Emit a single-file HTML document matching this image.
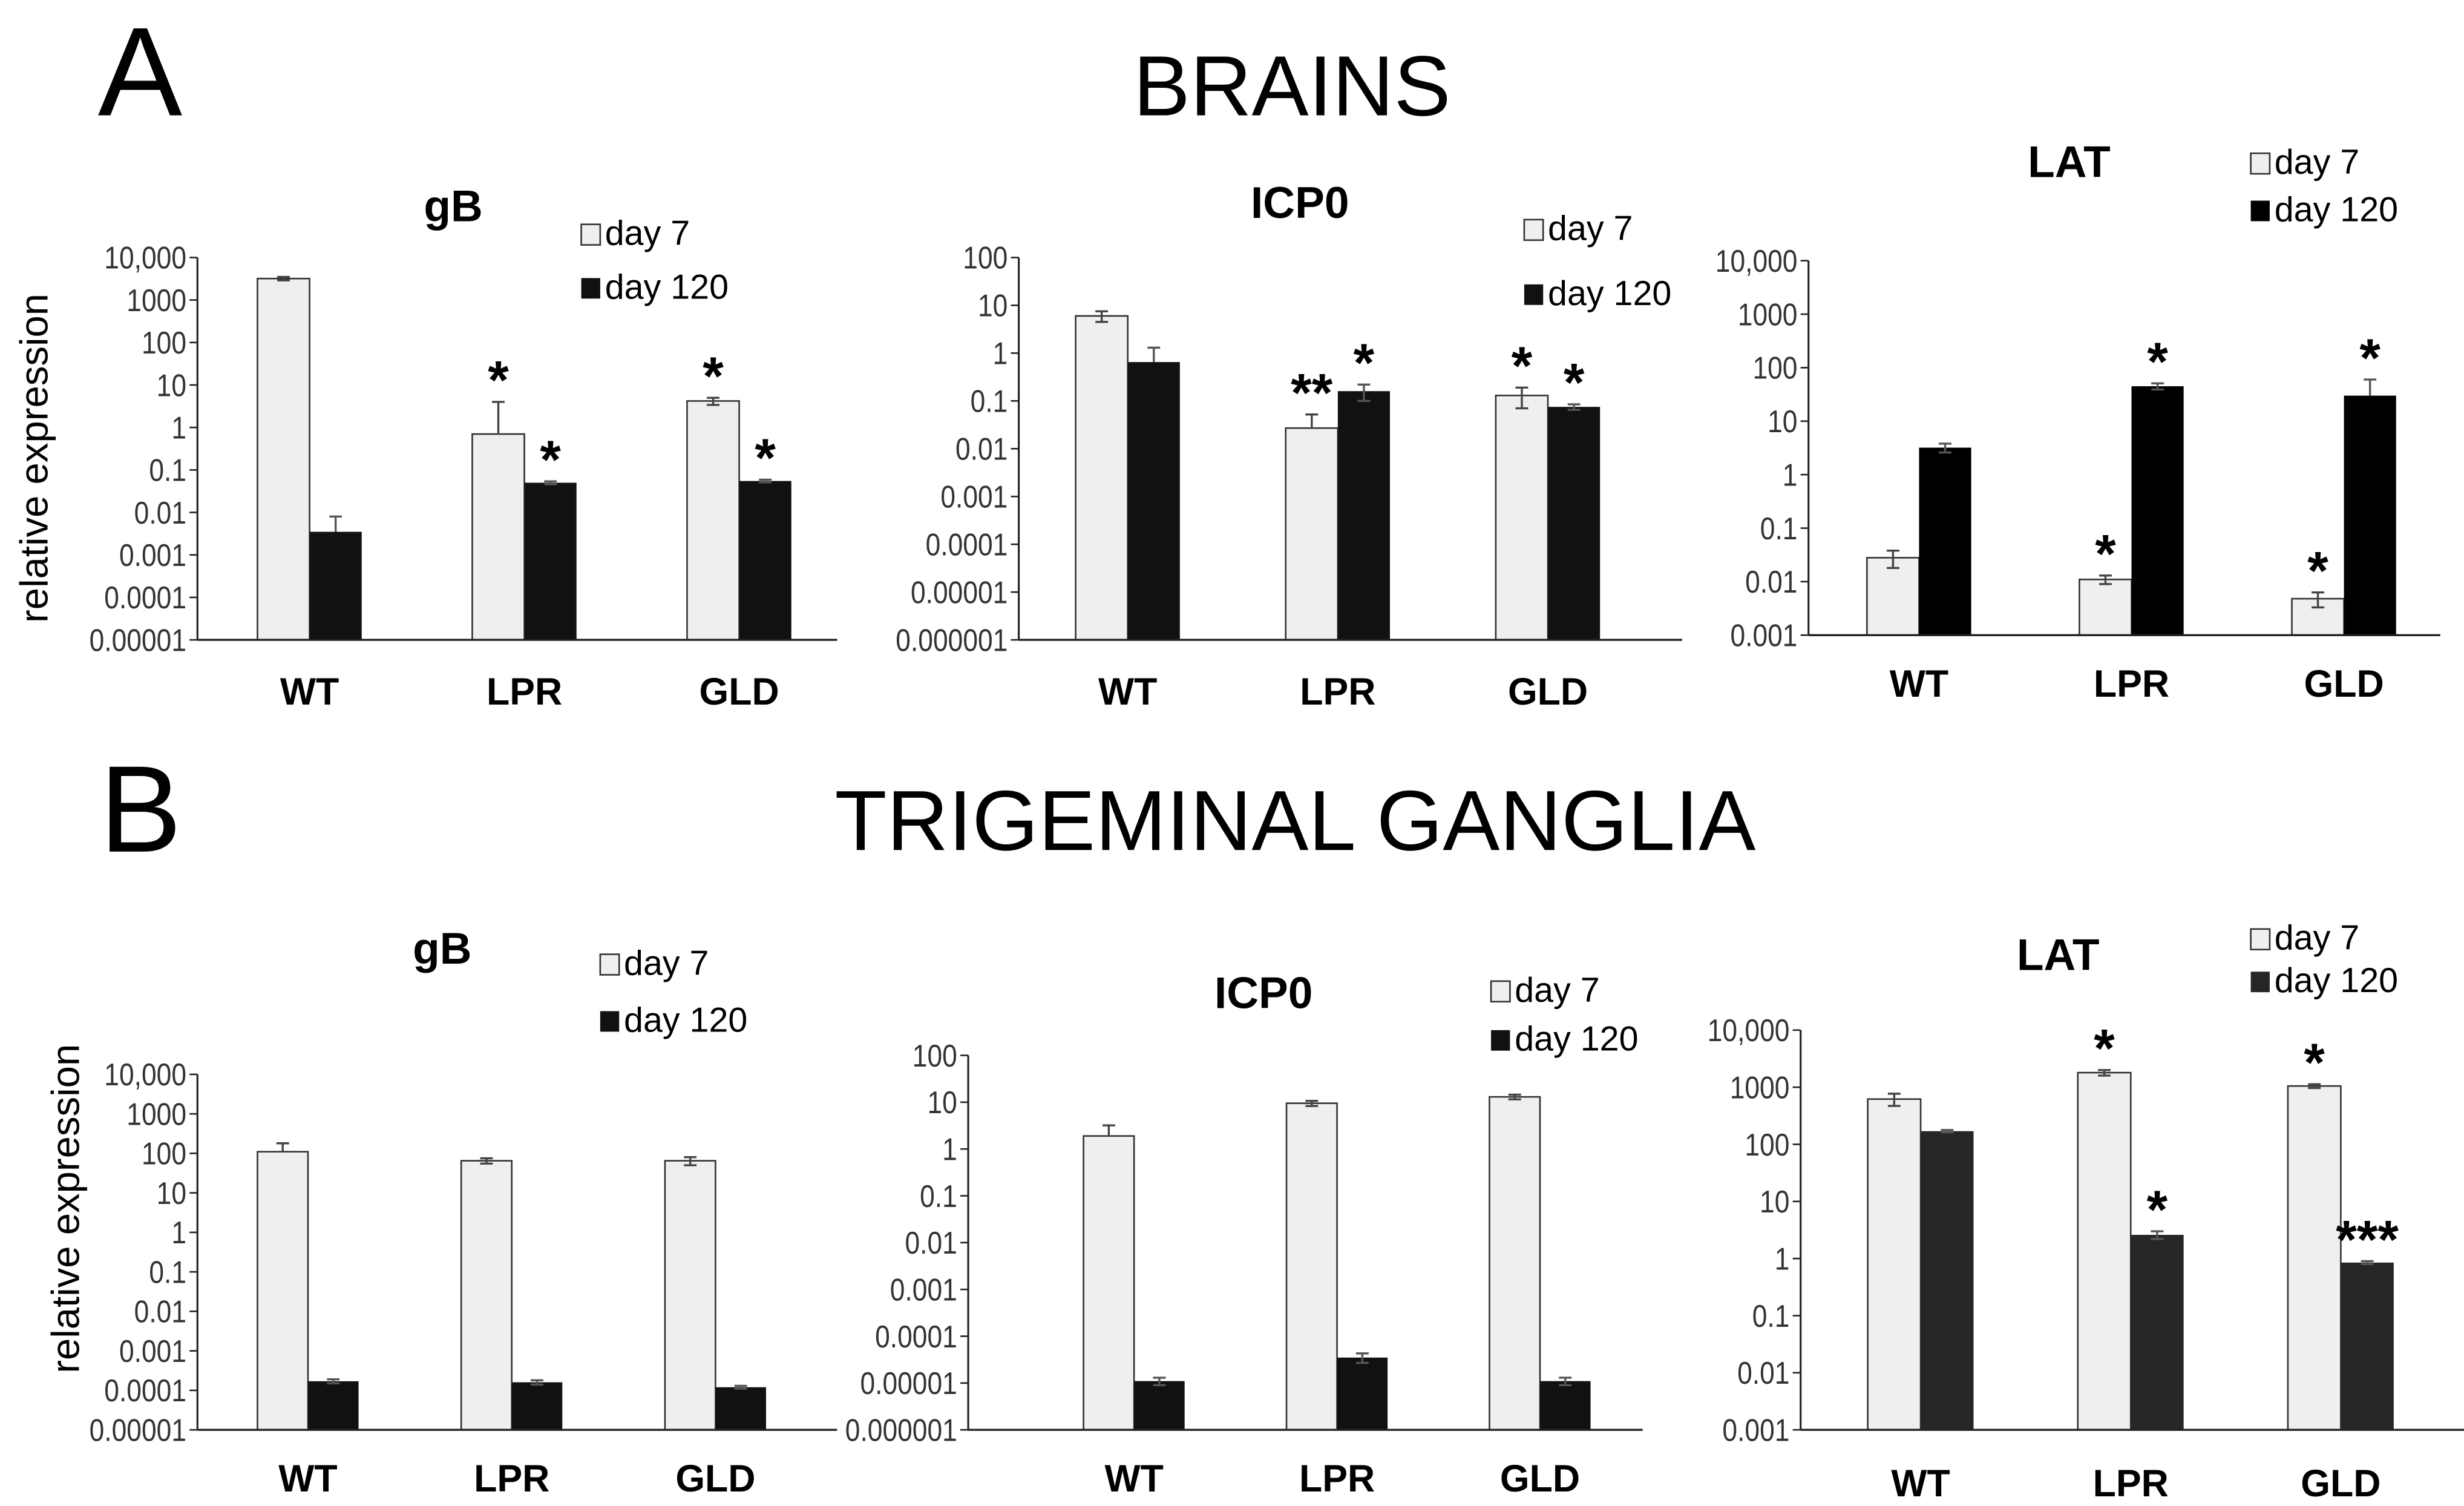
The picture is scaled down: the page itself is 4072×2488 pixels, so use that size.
<!DOCTYPE html>
<html><head><meta charset="utf-8">
<style>
html,body{margin:0;padding:0;background:#fff;width:4072px;height:2488px;overflow:hidden}
svg{display:block}
text{font-family:"Liberation Sans",Arial,sans-serif}
</style></head>
<body>
<svg id="fig" width="4072" height="2488" viewBox="0 0 1560 953.2" preserveAspectRatio="none" xmlns="http://www.w3.org/2000/svg">
<text x="62" y="73" font-size="80">A</text>
<text x="818" y="73" font-size="54" text-anchor="middle">BRAINS</text>
<text x="63" y="539" font-size="78">B</text>
<text x="820" y="538" font-size="54" text-anchor="middle">TRIGEMINAL GANGLIA</text>
</svg>
<script>
const categories = ["WT","LPR","GLD"];
// Brains gB
const a1Day7 = [3200, 0.7, 4.2];
const a1Day7Err = [300, 3.3, 0.8];
const a1Day120 = [0.0035, 0.05, 0.055];
const a1Day120Err = [0.0045, 0.004, 0.004];
const a1Ticks = ["10,000","1000","100","10","1","0.1","0.01","0.001","0.0001","0.00001"];
const a1Stars7 = ["", "*", "*"];
const a1Stars120 = ["", "*", "*"];
// Brains ICP0
const a2Day7 = [6, 0.027, 0.13];
const a2Day7Err = [1.5, 0.025, 0.06];
const a2Day120 = [0.65, 0.16, 0.075];
const a2Day120Err = [0.65, 0.06, 0.01];
const a2Ticks = ["100","10","1","0.1","0.01","0.001","0.0001","0.00001","0.000001"];
const a2Stars7 = ["", "**", "*"];
const a2Stars120 = ["", "*", "*"];
// Brains LAT
const a3Day7 = [0.028, 0.011, 0.0048];
const a3Day7Err = [0.01, 0.002, 0.0015];
const a3Day120 = [3.2, 45, 30];
const a3Day120Err = [0.6, 6, 30];
const a3Ticks = ["10,000","1000","100","10","1","0.1","0.01","0.001"];
const a3Stars7 = ["", "*", "*"];
const a3Stars120 = ["", "*", "*"];
// TG gB
const b1Day7 = [110, 65, 65];
const b1Day7Err = [70, 10, 15];
const b1Day120 = [0.00017, 0.00016, 0.00012];
const b1Day120Err = [0.00002, 0.00002, 0.00001];
const b1Ticks = ["10,000","1000","100","10","1","0.1","0.01","0.001","0.0001","0.00001"];
const b1Stars7 = ["", "", ""];
const b1Stars120 = ["", "", ""];
// TG ICP0
const b2Day7 = [1.9, 9.5, 13];
const b2Day7Err = [1.3, 1.2, 1.5];
const b2Day120 = [0.000011, 0.000035, 0.000011];
const b2Day120Err = [0.000002, 0.000008, 0.000002];
const b2Ticks = ["100","10","1","0.1","0.01","0.001","0.0001","0.00001","0.000001"];
const b2Stars7 = ["", "", ""];
const b2Stars120 = ["", "", ""];
// TG LAT
const b3Day7 = [620, 1800, 1050];
const b3Day7Err = [150, 200, 80];
const b3Day120 = [170, 2.6, 0.85];
const b3Day120Err = [8, 0.4, 0.05];
const b3Ticks = ["10,000","1000","100","10","1","0.1","0.01","0.001"];
const b3Stars7 = ["", "*", "*"];
const b3Stars120 = ["", "*", "***"];

const NS = "http://www.w3.org/2000/svg";
const svg = document.getElementById("fig");
function mk(tag, attrs, parent, txt){
  const e = document.createElementNS(NS, tag);
  for (const k in attrs) e.setAttribute(k, attrs[k]);
  if (txt !== undefined) e.textContent = txt;
  (parent || svg).appendChild(e);
  return e;
}

function panel(cfg){
  const g = mk("g", {});
  
  
  const top = cfg.yTop, bot = cfg.yBot;
  const maxExp = cfg.maxExp, minExp = cfg.minExp;
  const y = v => bot - (Math.log10(v) - minExp) / (maxExp - minExp) * (bot - top);
  const x = i => cfg.x0 + i * cfg.step;
  const t = mk("text", {x: cfg.titleX, y: cfg.titleY, "font-size": 28, "font-weight": "bold", "text-anchor": "middle"}, g, cfg.title);
  
  
  const l1 = mk("rect", {x: cfg.legX, y: cfg.legY1 - 13, width: 12, height: 13, fill: "#efefef", stroke: "#333", "stroke-width": 1}, g);
  
  
  const lt1 = mk("text", {x: cfg.legX + 15, y: cfg.legY1, "font-size": 22}, g, "day 7");
  
  
  const l2 = mk("rect", {x: cfg.legX, y: cfg.legY2 - 13, width: 12, height: 13, fill: cfg.dark}, g);
  
  
  const lt2 = mk("text", {x: cfg.legX + 15, y: cfg.legY2, "font-size": 22}, g, "day 120");
  
  
  const ya = mk("line", {x1: cfg.axX, y1: top, x2: cfg.axX, y2: bot, stroke: "#222", "stroke-width": 1.2}, g);
  
  
  cfg.ticks.forEach((lab, i) => {
    const v = Math.pow(10, maxExp - i);
    const ty = y(v);
    const tk = mk("line", {x1: cfg.axX - 5, y1: ty, x2: cfg.axX, y2: ty, stroke: "#222", "stroke-width": 1}, g);
    
    
    const tl = mk("text", {x: 0, y: 0, "font-size": 20, fill: "#333", "text-anchor": "end", transform: `translate(${cfg.axX - 7},${ty + 7}) scale(0.85,1)`}, g, lab);
    
    
  });
  const bw = cfg.bw;
  categories.forEach((c, i) => {
    const cx = x(i);
    const series = [[cfg.d7[i], cfg.e7[i], "#efefef", cx - bw, cfg.s7[i]], [cfg.d120[i], cfg.e120[i], cfg.dark, cx, cfg.s120[i]]];
    series.forEach((s, j) => {
      const [v, e, col, bx, star] = s;
      const by = y(v);
      const r = mk("rect", {x: bx, y: by, width: bw, height: bot - by, fill: col, stroke: j === 0 ? "#333" : "none", "stroke-width": 1}, g);
      
      
      const ex = bx + bw / 2;
      const eyT = y(v + e);
      const hasLow = e < v * 0.5;
      const eyB = hasLow ? y(v - e) : by;
      let d = `M${ex},${eyB}V${eyT}M${ex-4},${eyT}H${ex+4}`;
      if (hasLow) d += `M${ex-4},${eyB}H${ex+4}`;
      const eb = mk("path", {d: d, stroke: j === 0 ? "#444" : "#555", "stroke-width": 1.3, fill: "none"}, g);
      
      
      if (star) {
        const st = mk("text", {x: ex, y: Math.min(by, eyT) - 2, "font-size": 34, "font-weight": "bold", "text-anchor": "middle"}, g, star);
        
        
      }
    });
    const cl = mk("text", {x: cx, y: cfg.catY, "font-size": 24, "font-weight": "bold", "text-anchor": "middle"}, g, c);
    
    
  });
  const xa = mk("line", {x1: cfg.axX, y1: bot, x2: cfg.axEnd, y2: bot, stroke: "#222", "stroke-width": 1.3}, g);
  
  
  if (cfg.ylab) {
    const yl = mk("text", {x: 0, y: 0, "font-size": 25, "text-anchor": "middle", transform: `translate(${cfg.ylab[0]},${cfg.ylab[1]}) rotate(-90)`}, g, "relative expression");
    
    
  }
}

panel({name:"brains-gb-chart", title:"gB", titleX:287, titleY:140, legX:368, legY1:155, legY2:189,
  axX:125, axEnd:530, yTop:163, yBot:405, maxExp:4, minExp:-5, ticks:a1Ticks, x0:196, step:136, bw:33,
  d7:a1Day7, e7:a1Day7Err, d120:a1Day120, e120:a1Day120Err, s7:a1Stars7, s120:a1Stars120, dark:"#111", catY:446, ylab:[30,290]});
panel({name:"brains-icp0-chart", title:"ICP0", titleX:823, titleY:138, legX:965, legY1:152, legY2:193,
  axX:645, axEnd:1065, yTop:163, yBot:405, maxExp:2, minExp:-6, ticks:a2Ticks, x0:714, step:133, bw:33,
  d7:a2Day7, e7:a2Day7Err, d120:a2Day120, e120:a2Day120Err, s7:a2Stars7, s120:a2Stars120, dark:"#111", catY:446});
panel({name:"brains-lat-chart", title:"LAT", titleX:1310, titleY:112, legX:1425, legY1:110, legY2:140,
  axX:1145, axEnd:1545, yTop:165, yBot:402, maxExp:4, minExp:-3, ticks:a3Ticks, x0:1215, step:134.5, bw:33,
  d7:a3Day7, e7:a3Day7Err, d120:a3Day120, e120:a3Day120Err, s7:a3Stars7, s120:a3Stars120, dark:"#000", catY:441});
panel({name:"tg-gb-chart", title:"gB", titleX:280, titleY:610, legX:380, legY1:617, legY2:653,
  axX:125, axEnd:530, yTop:680, yBot:905, maxExp:4, minExp:-5, ticks:b1Ticks, x0:195, step:129, bw:32,
  d7:b1Day7, e7:b1Day7Err, d120:b1Day120, e120:b1Day120Err, s7:b1Stars7, s120:b1Stars120, dark:"#111", catY:944, ylab:[50,765]});
panel({name:"tg-icp0-chart", title:"ICP0", titleX:800, titleY:638, legX:944, legY1:634, legY2:665,
  axX:613, axEnd:1040, yTop:668, yBot:905, maxExp:2, minExp:-6, ticks:b2Ticks, x0:718, step:128.5, bw:32,
  d7:b2Day7, e7:b2Day7Err, d120:b2Day120, e120:b2Day120Err, s7:b2Stars7, s120:b2Stars120, dark:"#111", catY:944});
panel({name:"tg-lat-chart", title:"LAT", titleX:1303, titleY:614, legX:1425, legY1:601, legY2:628,
  axX:1140, axEnd:1560, yTop:652, yBot:905, maxExp:4, minExp:-3, ticks:b3Ticks, x0:1216, step:133, bw:33.5,
  d7:b3Day7, e7:b3Day7Err, d120:b3Day120, e120:b3Day120Err, s7:b3Stars7, s120:b3Stars120, dark:"#262626", catY:947});
</script>
</body></html>
